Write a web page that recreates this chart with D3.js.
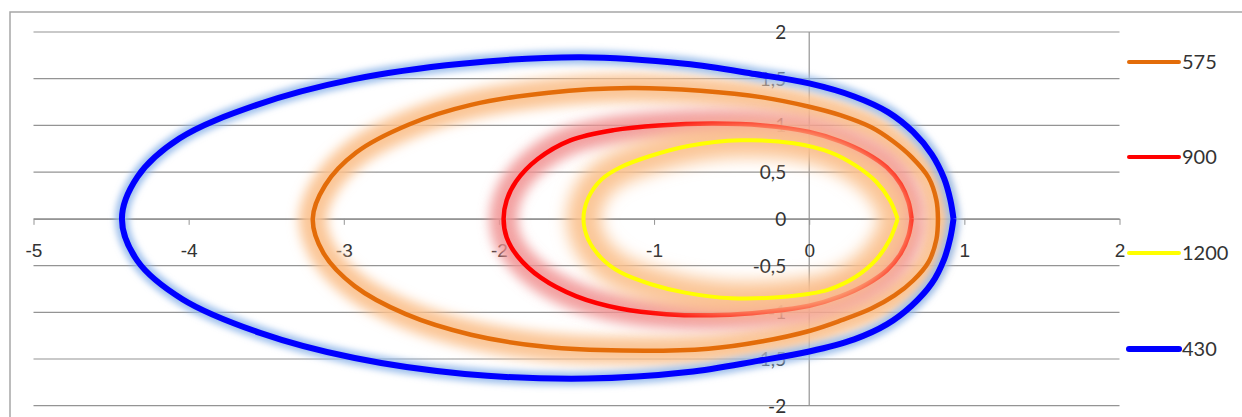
<!DOCTYPE html>
<html>
<head>
<meta charset="utf-8">
<script src="https://cdn.jsdelivr.net/npm/d3@7"></script>
<style>
  body { margin: 0; background: #fff; }
  svg { display: block; }
</style>
</head>
<body>
<div id="chart"></div>
<script>
// series names in legend order
const seriesNames = ["575", "900", "1200", "430"];

// points, each loop starts and ends at the right "nose"
const x575 = [0.83, 0.82, 0.77, 0.66, 0.54, 0.40, 0.20, 0.00, -0.30, -0.70, -1.15, -1.68, -2.18, -2.58, -2.92, -3.12, -3.20, -3.13, -2.93, -2.60, -2.18, -1.70, -1.20, -0.65, -0.30, 0.00, 0.20, 0.40, 0.55, 0.67, 0.77, 0.82, 0.83];
const y575 = [0, 0.20, 0.44, 0.66, 0.83, 0.98, 1.11, 1.20, 1.30, 1.37, 1.40, 1.35, 1.22, 1.01, 0.71, 0.36, 0, -0.37, -0.72, -1.02, -1.24, -1.37, -1.41, -1.39, -1.31, -1.20, -1.09, -0.96, -0.82, -0.66, -0.46, -0.22, 0];

const x900 = [0.66, 0.64, 0.59, 0.50, 0.37, 0.20, 0.00, -0.30, -0.62, -0.97, -1.26, -1.54, -1.75, -1.89, -1.95, -1.97, -1.95, -1.88, -1.73, -1.50, -1.22, -0.92, -0.57, -0.25, 0.00, 0.20, 0.37, 0.50, 0.59, 0.64, 0.66];
const y900 = [0, 0.18, 0.37, 0.55, 0.70, 0.83, 0.93, 1.00, 1.02, 1.00, 0.95, 0.84, 0.64, 0.40, 0.20, 0, -0.20, -0.40, -0.63, -0.83, -0.96, -1.02, -1.03, -0.99, -0.93, -0.83, -0.70, -0.55, -0.37, -0.18, 0];

const x1200 = [0.57, 0.52, 0.43, 0.30, 0.14, -0.10, -0.44, -0.78, -1.03, -1.22, -1.34, -1.425, -1.455, -1.425, -1.34, -1.22, -1.02, -0.80, -0.50, -0.14, 0.12, 0.30, 0.43, 0.52, 0.57];
const y1200 = [0, 0.20, 0.40, 0.57, 0.71, 0.81, 0.84, 0.78, 0.67, 0.55, 0.42, 0.22, 0, -0.22, -0.42, -0.57, -0.70, -0.79, -0.85, -0.83, -0.76, -0.62, -0.44, -0.22, 0];

const x430 = [0.93, 0.91, 0.87, 0.79, 0.67, 0.51, 0.29, 0.00, -0.35, -0.80, -1.47, -2.24, -2.95, -3.56, -4.06, -4.33, -4.43, -4.33, -4.04, -3.54, -2.93, -2.22, -1.43, -0.78, -0.33, 0.00, 0.29, 0.50, 0.66, 0.79, 0.87, 0.91, 0.93];
const y430 = [0, 0.20, 0.43, 0.69, 0.93, 1.14, 1.31, 1.45, 1.55, 1.66, 1.73, 1.66, 1.49, 1.22, 0.86, 0.45, 0, -0.45, -0.86, -1.22, -1.49, -1.66, -1.71, -1.64, -1.52, -1.42, -1.29, -1.13, -0.93, -0.69, -0.43, -0.20, 0];

const xTicks = [-5, -4, -3, -2, -1, 0, 1, 2];
const yTicks = [-2, -1.5, -1, -0.5, 0, 0.5, 1, 1.5, 2];

const width = 1242, height = 417;

const svg = d3.select("#chart").append("svg")
  .attr("width", width)
  .attr("height", height)
  .style("font-family", "Lato, 'Liberation Sans', sans-serif");

// chart frame (right and bottom edge are outside the picture)
svg.append("rect")
  .attr("x", 10).attr("y", 12)
  .attr("width", 1260).attr("height", 420)
  .attr("fill", "#fff")
  .attr("stroke", "#a6a6a6")
  .attr("stroke-width", 1.5);

const x = d3.scaleLinear().domain([-5, 2]).range([33.5, 1119.5]);
const y = d3.scaleLinear().domain([-2, 2]).range([405.7, 32]);

// glow filters
const defs = svg.append("defs");
function blurFilter(id, sd) {
  defs.append("filter")
    .attr("id", id)
    .attr("filterUnits", "userSpaceOnUse")
    .attr("x", 0).attr("y", 0).attr("width", width).attr("height", height)
    .append("feGaussianBlur").attr("stdDeviation", sd);
}
blurFilter("blur3", 3);
blurFilter("blur6", 6);
blurFilter("blur8", 8);

// horizontal grid
svg.append("g")
  .selectAll("line")
  .data(yTicks)
  .enter().append("line")
  .attr("x1", x(-5)).attr("x2", x(2))
  .attr("y1", d => y(d)).attr("y2", d => y(d))
  .attr("stroke", "#949494")
  .attr("stroke-width", 1.2);

// vertical axis at x = 0
svg.append("line")
  .attr("x1", x(0)).attr("x2", x(0))
  .attr("y1", y(2)).attr("y2", y(-2))
  .attr("stroke", "#949494")
  .attr("stroke-width", 1.2);

// x axis with outside ticks
const xAxis = svg.append("g")
  .attr("transform", `translate(0,${y(0)})`)
  .call(d3.axisBottom(x).tickValues(xTicks).tickSize(6).tickSizeOuter(0)
    .tickFormat(d => d3.format("d")(d).replace("−", "-")));
xAxis.select(".domain").attr("stroke", "#949494").attr("stroke-width", 1.2);
xAxis.selectAll(".tick line").attr("stroke", "#949494");
xAxis.selectAll(".tick text")
  .attr("y", 0).attr("dy", "38px")
  .style("font-size", "19px")
  .attr("fill", "#333");

// y labels left of the vertical axis, decimal comma
svg.append("g")
  .selectAll("text")
  .data(yTicks)
  .enter().append("text")
  .attr("x", x(0) - 23)
  .attr("y", d => y(d) + 7)
  .attr("text-anchor", "end")
  .style("font-size", "19px")
  .attr("fill", "#333")
  .text(d => String(d).replace(".", ","));

const line = d3.line()
  .x(d => x(d[0]))
  .y(d => y(d[1]))
  .curve(d3.curveCatmullRom.alpha(0.5));

const series = [
  { name: "575", xs: x575, ys: y575, color: "#e36c09", glow: "#fbc08c", glowW: 28, blur: "blur6", op: 0.9, w: 4.5 },
  { name: "900", xs: x900, ys: y900, color: "#ff0000", glow: "#f09090", glowW: 28, blur: "blur6", op: 0.85, w: 4.5 },
  { name: "1200", xs: x1200, ys: y1200, color: "#ffff00", glow: "#fbc08c", glowW: 34, blur: "blur8", op: 0.9, w: 4 },
  { name: "430", xs: x430, ys: y430, color: "#0000ff", glow: "#8fb6ea", glowW: 14, blur: "blur3", op: 0.85, w: 6 }
];

series.forEach(s => {
  const pts = s.xs.map((v, i) => [v, s.ys[i]]);
  svg.append("path")
    .attr("d", line(pts))
    .attr("fill", "none")
    .attr("stroke", s.glow)
    .attr("stroke-width", s.glowW)
    .attr("stroke-opacity", s.op)
    .attr("stroke-linejoin", "round")
    .attr("filter", `url(#${s.blur})`);
  svg.append("path")
    .attr("d", line(pts))
    .attr("fill", "none")
    .attr("stroke", s.color)
    .attr("stroke-width", s.w)
    .attr("stroke-linejoin", "round");
});

// legend
const legendY = [62, 157, 253, 349];
const legend = svg.append("g").selectAll("g")
  .data(series)
  .enter().append("g")
  .attr("transform", (d, i) => `translate(1129,${legendY[i]})`);
legend.append("line")
  .attr("x1", 0).attr("x2", 50)
  .attr("stroke", d => d.color)
  .attr("stroke-width", d => d.name === "430" ? 6 : 4)
  .attr("stroke-linecap", "round");
legend.append("text")
  .attr("x", 53)
  .attr("y", 7)
  .style("font-size", "20px")
  .attr("fill", "#333")
  .text(d => d.name);
</script>
</body>
</html>
